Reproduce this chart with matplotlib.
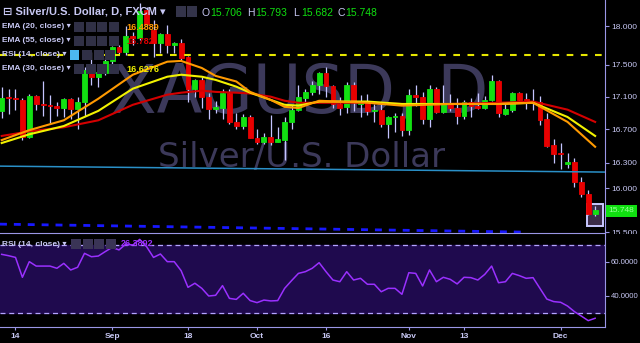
import numpy as np
import pandas as pd
import matplotlib
matplotlib.use('Agg')
import matplotlib.pyplot as plt
from matplotlib.patches import Rectangle
from matplotlib.ticker import FixedLocator, NullLocator, FormatStrFormatter, NullFormatter

# XAGUSD daily candles, 10 Aug 2017 .. 8 Dec 2017
opens = [16.92, 17.10, 17.09, 17.06, 16.61, 17.11, 17.01, 17.00, 16.99, 16.96,
         17.07, 16.95, 17.03, 17.44, 17.35, 17.40, 17.55, 17.73, 17.66, 17.87,
         17.84, 18.21, 17.95, 17.78, 17.90, 17.75, 17.78, 17.60, 17.20, 17.31,
         17.10, 16.95, 16.96, 17.14, 16.79, 16.74, 16.85, 16.60, 16.55, 16.61,
         16.55, 16.57, 16.79, 16.94, 17.09, 17.16, 17.24, 17.40, 17.23, 17.01,
         16.97, 17.24, 17.01, 17.05, 16.92, 16.93, 16.77, 16.85, 16.86, 16.69,
         17.12, 17.10, 16.82, 17.20, 16.91, 17.01, 16.96, 16.86, 17.03, 16.99,
         16.96, 17.06, 17.30, 16.89, 16.94, 17.15, 17.07, 17.02, 17.04, 16.82,
         16.51, 16.41, 16.29, 16.31, 16.07, 15.94, 15.706]
highs = [17.22, 17.19, 17.19, 17.08, 17.13, 17.12, 17.30, 17.12, 17.04, 17.09,
         17.09, 17.10, 17.47, 17.66, 17.50, 17.60, 17.74, 17.75, 18.00, 17.92,
         18.30, 18.25, 18.08, 17.91, 18.01, 17.79, 17.83, 17.61, 17.32, 17.35,
         17.14, 17.05, 17.19, 17.20, 16.90, 16.89, 16.87, 16.71, 16.65, 16.87,
         16.73, 16.85, 17.00, 17.24, 17.20, 17.29, 17.41, 17.47, 17.25, 17.10,
         17.28, 17.28, 17.12, 17.13, 17.01, 17.01, 16.86, 16.90, 16.90, 17.19,
         17.24, 17.16, 17.24, 17.22, 17.24, 17.13, 17.08, 17.06, 17.08, 17.14,
         17.11, 17.37, 17.31, 17.04, 17.16, 17.16, 17.15, 17.20, 17.11, 16.90,
         16.58, 16.54, 16.42, 16.36, 16.13, 15.98, 15.793]
lows = [16.84, 16.89, 16.94, 16.57, 16.59, 16.94, 16.86, 16.78, 16.86, 16.85,
        16.82, 16.71, 16.86, 17.25, 17.22, 17.37, 17.42, 17.64, 17.63, 17.75,
        17.82, 18.00, 17.60, 17.65, 17.65, 17.65, 17.56, 17.04, 17.10, 16.96,
        16.82, 16.90, 16.82, 16.77, 16.71, 16.70, 16.59, 16.52, 16.52, 16.51,
        16.55, 16.33, 16.70, 16.92, 17.04, 17.12, 17.13, 17.10, 16.96, 16.88,
        16.90, 16.92, 16.85, 16.87, 16.79, 16.73, 16.60, 16.67, 16.62, 16.63,
        16.98, 16.77, 16.73, 16.90, 16.90, 16.92, 16.77, 16.82, 16.85, 16.95,
        16.95, 17.05, 16.85, 16.87, 16.91, 17.04, 16.95, 16.94, 16.75, 16.49,
        16.30, 16.23, 16.24, 16.01, 15.90, 15.69, 15.682]
closes = [17.09, 17.08, 17.07, 16.61, 17.11, 17.01, 17.00, 16.99, 16.96, 17.07,
          16.95, 17.03, 17.44, 17.35, 17.41, 17.55, 17.73, 17.66, 17.87, 17.84,
          18.20, 18.03, 17.78, 17.90, 17.75, 17.78, 17.59, 17.20, 17.31, 17.10,
          16.95, 16.97, 17.14, 16.79, 16.74, 16.85, 16.60, 16.55, 16.61, 16.55,
          16.58, 16.79, 16.94, 17.10, 17.16, 17.24, 17.40, 17.23, 17.01, 16.96,
          17.24, 17.03, 17.05, 16.92, 16.93, 16.77, 16.85, 16.86, 16.69, 17.12,
          17.10, 16.82, 17.20, 16.91, 17.01, 16.96, 16.86, 17.03, 16.99, 16.96,
          17.06, 17.30, 16.90, 16.95, 17.15, 17.06, 17.02, 17.03, 16.81, 16.50,
          16.40, 16.40, 16.31, 16.07, 15.93, 15.70, 15.748]

# moving averages, sampled along the drawn curves
ema_idx = [0, 4, 9, 14, 19, 24, 26, 29, 31, 34, 36, 39, 41, 43, 46, 53, 58, 65, 72, 77, 82, 86]
ema20 = [16.57, 16.69, 16.81, 17.075, 17.375, 17.54, 17.55, 17.46, 17.36, 17.29, 17.16,
         17.06, 16.975, 16.96, 17.05, 17.025, 16.99, 17.01, 17.01, 17.025, 16.79, 16.49]
ema30 = [16.535, 16.64, 16.74, 16.925, 17.2, 17.35, 17.375, 17.35, 17.31, 17.225, 17.15,
         17.06, 17.0, 16.99, 17.04, 17.04, 17.01, 17.01, 17.01, 17.025, 16.85, 16.62]
ema55 = [16.62, 16.675, 16.725, 16.81, 17.0, 17.125, 17.15, 17.175, 17.16, 17.15, 17.14,
         17.1, 17.05, 17.025, 17.025, 17.025, 17.01, 17.01, 17.025, 17.04, 16.94, 16.79]

rsi = [64.5, 63.7, 62.7, 51.0, 60.2, 57.6, 57.6, 57.6, 56.3, 59.2,
       55.3, 56.9, 65.1, 63.1, 63.5, 66.1, 68.6, 67.1, 70.6, 70.0,
       73.3, 69.0, 62.7, 64.7, 60.2, 60.2, 54.9, 45.1, 47.5, 44.5,
       40.0, 40.4, 46.1, 38.6, 38.0, 41.6, 37.3, 36.1, 37.6, 37.1,
       37.3, 44.5, 49.0, 53.3, 54.3, 56.3, 59.6, 54.3, 49.4, 48.4,
       54.3, 49.4, 50.4, 46.9, 46.9, 42.5, 44.5, 44.5, 41.0, 53.7,
       53.3, 45.9, 55.3, 48.4, 51.0, 49.8, 47.1, 51.0, 50.8, 49.4,
       52.7, 57.6, 47.8, 48.4, 53.3, 52.0, 50.4, 50.8, 44.5, 38.2,
       36.7, 36.3, 34.1, 30.8, 28.2, 25.5, 26.9]

# drawn lines
resist_level = 17.63
support_x = [-0.25, 87.4]
support_y = [16.26, 16.19]
lower_x = [-0.25, 75.8]
lower_y = [15.59, 15.50]

price_ticks = [18.0, 17.5, 17.1, 16.7, 16.3, 16.0, 15.5]
rsi_ticks = [60, 40]
tick_dates = ['2017-08-14', '2017-09-01', '2017-09-18', '2017-10-02',
              '2017-10-16', '2017-11-01', '2017-11-13', '2017-12-01']
tick_labels = ['14', 'Sep', '18', 'Oct', '16', 'Nov', '13', 'Dec']

dates = pd.bdate_range('2017-08-10', periods=len(closes))
x = np.arange(len(closes))
o = np.array(opens); h = np.array(highs); l = np.array(lows); c = np.array(closes)

W, H = 640, 343
LAV = '#c8c8f4'
BORDER = '#9a96e6'
GREEN = '#12e012'
RED = '#e80000'

def fx(px):
    return px / W

def fy(py):
    return 1 - py / H

def px_rect(x0, y0, w, h_, **kw):
    return Rectangle((fx(x0), fy(y0 + h_)), w / W, h_ / H, transform=fig.transFigure, **kw)

fig = plt.figure(figsize=(6.4, 3.43), dpi=100, facecolor='black')
ax = fig.add_axes([0, fy(233), fx(605), 233 / H], zorder=0)
rax = fig.add_axes([0, fy(327), fx(605), 94 / H], zorder=2, sharex=ax)

for a in (ax, rax):
    a.set_facecolor('black')
    for s in a.spines.values():
        s.set_visible(False)
    a.spines['right'].set_visible(True)
    a.spines['right'].set_color(BORDER)
rax.spines['top'].set_visible(True)
rax.spines['top'].set_color(BORDER)
rax.spines['bottom'].set_visible(True)
rax.spines['bottom'].set_color(BORDER)

# watermark
ax.text(fx(300), fy(113), 'XAGUSD, D', transform=fig.transFigure, ha='center', va='baseline',
        fontsize=48, color='#3c395a', family='DejaVu Sans', zorder=0.5)
ax.text(fx(302), fy(167), 'Silver/U.S. Dollar', transform=fig.transFigure, ha='center',
        va='baseline', fontsize=24.5, color='#3c395a', family='DejaVu Sans', zorder=0.5)

# candles
cols = np.where(c >= o, GREEN, RED)
ax.vlines(x, l, h, color='#c4c4ff', lw=0.9, zorder=2)
ax.bar(x, np.abs(c - o), bottom=np.minimum(o, c), width=0.7, color=cols,
       edgecolor=cols, linewidth=0.6, zorder=3)

# last bar highlight
ax.add_patch(Rectangle((x[-1] - 1.15, l[-1] - 0.11), 2.3, h[-1] - l[-1] + 0.14,
                       facecolor='#3b2c48', edgecolor='#c8c8ff', lw=1.4, zorder=1.5))

ax.plot(ema_idx, ema55, color='#d40000', lw=1.5, zorder=4)
ax.plot(ema_idx, ema30, color='#f2f200', lw=1.5, zorder=4)
ax.plot(ema_idx, ema20, color='#ff9a00', lw=1.5, zorder=4)

ax.axhline(resist_level, color='#e6e600', lw=1.5, ls=(0, (3.2, 3.6)), zorder=4)
ax.plot(support_x, support_y, color='#2a90c8', lw=1.1, zorder=4)
ax.plot(lower_x, lower_y, color='#1818ff', lw=2.0, ls=(0, (2.5, 2.5)), zorder=4)

ax.set_yscale('log')
ax.set_ylim(15.49, 18.343)
ax.set_xlim(-0.246, 87.43)
ax.yaxis.set_major_locator(FixedLocator(price_ticks))
ax.yaxis.set_minor_locator(NullLocator())
ax.yaxis.set_major_formatter(FormatStrFormatter('%.3f'))
ax.yaxis.set_minor_formatter(NullFormatter())
ax.yaxis.tick_right()
ax.tick_params(axis='y', colors=BORDER, labelcolor=LAV, labelsize=6, length=3, width=0.8, pad=1.5)
ax.tick_params(axis='x', bottom=False, labelbottom=False)
for t in ax.get_yticklabels():
    t.set_family('Liberation Sans')

# cover the right scale beneath the price panel
fig.add_artist(px_rect(605.6, 233.5, 40, 115, facecolor='black', edgecolor='none', zorder=1))

# RSI panel
rax.axhspan(30, 70, color='#1f0a4e', zorder=0.5)
rax.axhline(70, color='#b4a4ff', lw=0.9, ls=(0, (4, 3)), zorder=1)
rax.axhline(30, color='#b4a4ff', lw=0.9, ls=(0, (4, 3)), zorder=1)
rax.plot(x, rsi, color='#9a30ff', lw=1.1, zorder=3)
rax.set_ylim(21.76, 77.06)
rax.yaxis.set_major_locator(FixedLocator(rsi_ticks))
rax.yaxis.set_major_formatter(FormatStrFormatter('%.4f'))
rax.yaxis.tick_right()
rax.tick_params(axis='y', colors=BORDER, labelcolor=LAV, labelsize=5.6, length=3, width=0.8, pad=1.2)
for t in rax.get_yticklabels():
    t.set_family('Liberation Sans')

tick_pos = [dates.get_loc(pd.Timestamp(d)) for d in tick_dates]
rax.set_xticks(tick_pos)
rax.set_xticklabels(tick_labels)
rax.tick_params(axis='x', colors=BORDER, labelcolor=LAV, labelsize=6, length=2, width=0.8, pad=2)
for t in rax.get_xticklabels():
    t.set_family('Liberation Sans')
    t.set_fontweight('bold')

# header
fam = ['Liberation Sans', 'DejaVu Sans']
fig.text(fx(3), fy(12), '\u229f Silver/U.S. Dollar, D, FXCM \u25be', color=LAV, fontsize=8,
         fontweight='bold', family=fam, va='center')
for xi in (176, 187):
    fig.add_artist(px_rect(xi, 6, 10, 11, facecolor='#34344a', edgecolor='none', zorder=5))
ohlc = [('O', '15.706', 202), ('H', '15.793', 247), ('L', '15.682', 293), ('C', '15.748', 337)]
for key, val, xp in ohlc:
    fig.text(fx(xp), fy(13), key, color=LAV, fontsize=7.5, family=fam, va='center')
    fig.text(fx(xp + 8), fy(13), val, color='#10e010', fontsize=7.5, family=fam, va='center')

# indicator legends
rows = [('EMA (20, close)', 27, '16.4889', '#ff9a00'),
        ('EMA (55, close)', 41, '16.782', '#e00000'),
        ('RSI (14, close)', 55, None, None),
        ('EMA (30, close)', 69, '16.6276', '#f2f200')]
for name, yp, val, col in rows:
    fig.text(fx(2), fy(yp), name + ' \u25be', color=LAV, fontsize=6, family=fam,
             fontweight='bold', va='center', zorder=6)
    start = 74
    if val is None:
        fig.add_artist(px_rect(70, yp - 5, 9, 10, facecolor='#4cb8f0', edgecolor='none', zorder=5))
        start = 82
    for k in range(4 if val else 3):
        fig.add_artist(px_rect(start + k * 11.5, yp - 5, 10, 10, facecolor='#303046',
                               edgecolor='none', zorder=5))
    if val:
        fig.text(fx(126), fy(yp), val, color=col, fontsize=6.5, family=fam,
                 fontweight='bold', va='center', zorder=6)

fig.text(fx(2), fy(244), 'RSI (14, close) \u25be', color=LAV, fontsize=6, family=fam,
         fontweight='bold', va='center', zorder=6)
for k in range(4):
    fig.add_artist(px_rect(71 + k * 11.5, 239, 10, 10, facecolor='#3a3456', edgecolor='none', zorder=5))
fig.text(fx(121), fy(244), '26.3892', color='#9a30ff', fontsize=6.5, family=fam,
         fontweight='bold', va='center', zorder=6)

# last price tag
fig.add_artist(px_rect(606, 205, 31, 12, facecolor='#10e010', edgecolor='none', zorder=5))
fig.text(fx(621.5), fy(211), '15.748', color='#9cff9c', fontsize=6, family='Liberation Sans',
         ha='center', va='center', zorder=6)

fig.savefig('out.png', dpi=100, facecolor='black')
